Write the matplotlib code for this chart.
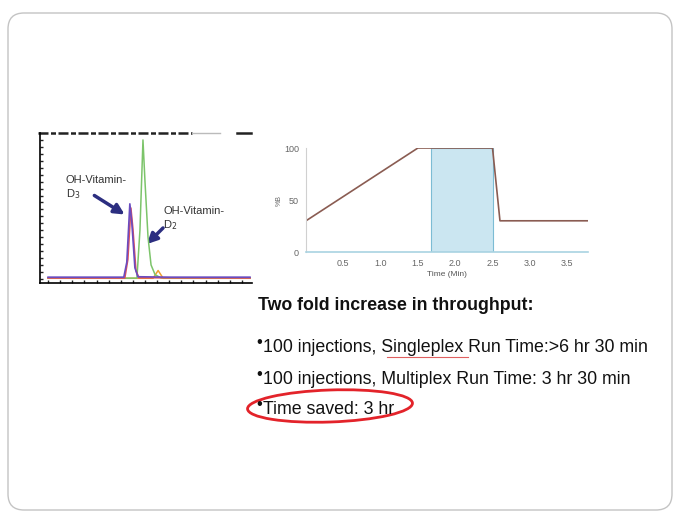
import matplotlib.pyplot as plt
from matplotlib.patches import FancyBboxPatch, Ellipse, Rectangle

plt.rcParams['font.family'] = ['Liberation Sans', 'DejaVu Sans']

# chromatogram traces (x in % of run, y in % of tallest peak)
purple_x = [0, 37.5, 39, 40.5, 41.5, 43, 44.5, 60, 100]
purple_y = [1.2, 1.2, 12, 54, 40, 8, 1.5, 1.2, 1.2]
red_x = [0, 38, 39.5, 41, 42, 43.5, 45, 100]
red_y = [0.6, 0.6, 14, 51, 36, 6, 0.8, 0.6]
green_x = [0, 44, 45.5, 47, 48, 49.5, 51, 53, 56, 100]
green_y = [0.5, 0.5, 35, 100, 70, 30, 10, 3, 0.6, 0.5]
orange_x = [0, 52, 54.5, 57, 100]
orange_y = [0.4, 0.4, 6, 0.4, 0.4]

# gradient program
grad_t = [0, 1.5, 2.5, 2.6, 3.78]
grad_b = [30, 100, 100, 30, 30]
window = (1.68, 2.5)
x_ticks = [0.5, 1.0, 1.5, 2.0, 2.5, 3.0, 3.5]
y_ticks = [0, 50, 100]

title = "Two fold increase in throughput:"
bullets = ["100 injections, Singleplex Run Time:>6 hr 30 min",
           "100 injections, Multiplex Run Time: 3 hr 30 min",
           "Time saved: 3 hr"]

W, H = 674, 513
fig = plt.figure(figsize=(W / 100, H / 100), dpi=100)

# full-figure overlay in pixel coords
bg = fig.add_axes([0, 0, 1, 1])
bg.set_xlim(0, W)
bg.set_ylim(H, 0)
bg.axis('off')
frame = FancyBboxPatch((8, 13), 664, 497, boxstyle="round,pad=0,rounding_size=16",
                       fill=False, ec='#c4c4c4', lw=1.0)
bg.add_patch(frame)

def px_axes(x0, y0, x1, y1):
    return fig.add_axes([x0 / W, 1 - y1 / H, (x1 - x0) / W, (y1 - y0) / H])

# chromatogram
ac = px_axes(40, 133, 252, 283)
ac.plot(orange_x, orange_y, color='#f0a030', lw=1.1)
ac.plot(green_x, green_y, color='#7cc46a', lw=1.1)
ac.plot(red_x, red_y, color='#e0505a', lw=1.2)
ac.plot(purple_x, purple_y, color='#6a4cc0', lw=1.2)
ac.set_xlim(-4, 101)
ac.set_ylim(-3, 105)
for s in ['left', 'bottom']:
    ac.spines[s].set_linewidth(1.2)
ac.spines['top'].set_visible(False)
ac.spines['right'].set_visible(False)
ac.set_xticks(range(0, 101, 6))
ac.set_yticks(range(0, 101, 5))
ac.tick_params(length=2, width=1, labelsize=0, direction='in', colors='#222222')
ac.set_xticklabels([])
ac.set_yticklabels([])
ac.patch.set_alpha(0)
# header bar of the instrument print-out
bg.plot([38, 192], [133, 133], color='#222222', lw=1.8, ls=(0, (4, 1, 2, 1)))
bg.plot([192, 220], [133, 133], color='#bbbbbb', lw=1.0)
bg.plot([237, 251], [133, 133], color='#222222', lw=1.8)

bg.text(66, 188, "OH-Vitamin-\nD$_3$", fontsize=8, color='#333333', va='center', linespacing=1.25)
bg.annotate("", xy=(127, 216), xytext=(92, 194),
            arrowprops=dict(arrowstyle='-|>', color='#2c2e80', lw=2.5, mutation_scale=15))
bg.text(163, 219, "OH-Vitamin-\nD$_2$", fontsize=8, color='#333333', va='center', linespacing=1.25)
bg.annotate("", xy=(145, 246), xytext=(165, 226),
            arrowprops=dict(arrowstyle='-|>', color='#2c2e80', lw=2.5, mutation_scale=15))

# gradient chart
ag = px_axes(306, 148, 588, 252)
ag.add_patch(Rectangle((window[0], 0), window[1] - window[0], 100,
                       fc='#cbe6f1', ec='#7cbcd4', lw=0.8))
ag.plot(grad_t, grad_b, color='#8a5c52', lw=1.2)
ag.set_xlim(0, 3.78)
ag.set_ylim(0, 100)
ag.spines['top'].set_visible(False)
ag.spines['right'].set_visible(False)
ag.spines['left'].set_color('#d0d0d0')
ag.spines['bottom'].set_color('#a9d3e2')
ag.spines['bottom'].set_linewidth(1.2)
ag.set_xticks(x_ticks)
ag.set_xticklabels([f"{t:.1f}" for t in x_ticks])
ag.set_yticks(y_ticks)
ag.tick_params(length=0, labelsize=6.5, colors='#666666', pad=5)
ag.set_xlabel("Time (Min)", fontsize=6, color='#555555', labelpad=2)
ag.set_ylabel("%B", fontsize=5, color='#666666', labelpad=1)
ag.patch.set_alpha(0)

# text block
bg.text(258, 306, title, fontsize=12.8, fontweight='bold', color='#111111', va='center')
for y, line in zip([348, 379, 410], bullets):
    bg.text(256, y - 5, "\u2022", fontsize=12, color='#111111', va='center')
    bg.text(263, y, line, fontsize=12.8, color='#111111', va='center')

bg.plot([387, 468], [357, 357], color='#e06060', lw=0.8)
bg.add_patch(Ellipse((330, 406), 165, 32, angle=-2, fill=False, ec='#e3232a', lw=2.0))

fig.savefig("out.png", dpi=100)
